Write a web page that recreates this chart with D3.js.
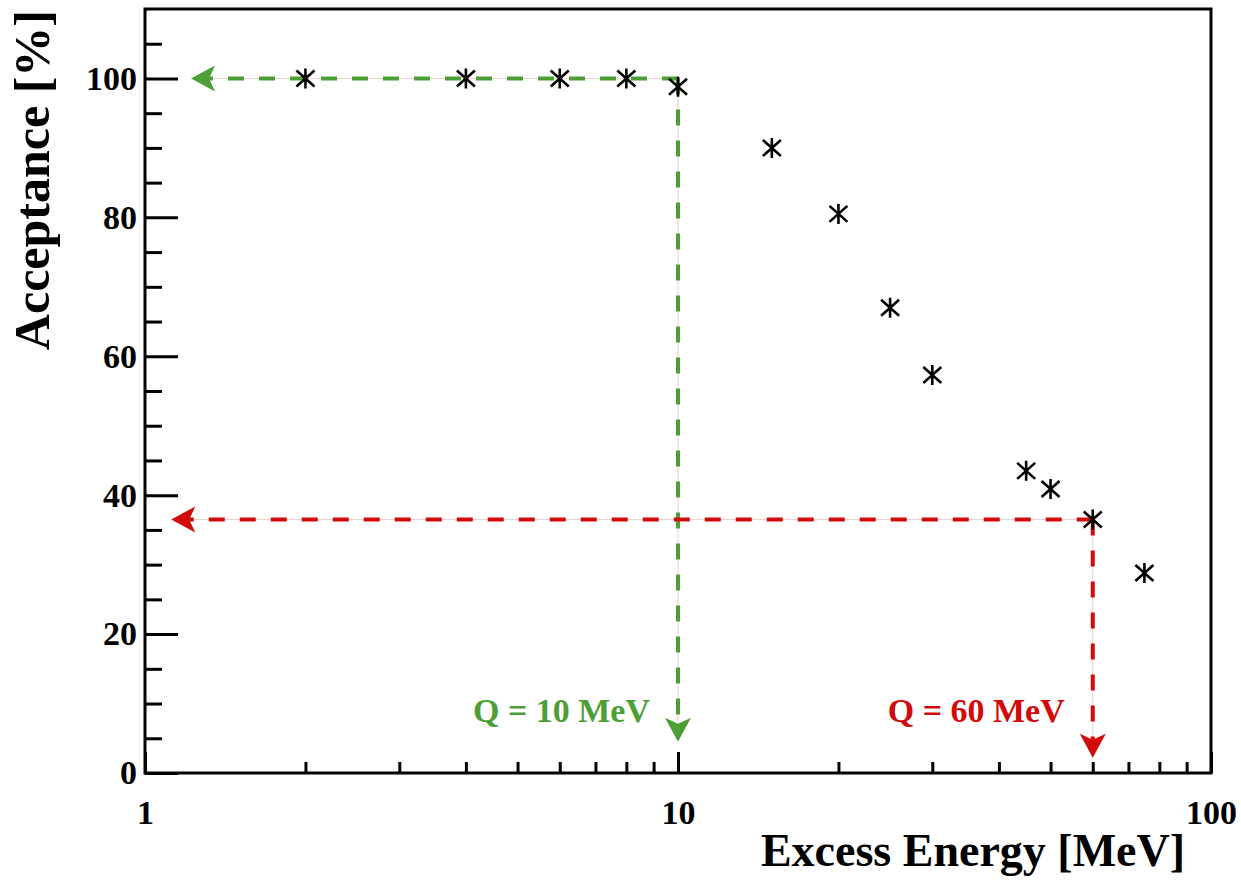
<!DOCTYPE html>
<html>
<head>
<meta charset="utf-8">
<script src="https://cdn.jsdelivr.net/npm/d3@7"></script>
<style>
  body { margin: 0; background: #fff; }
  text { font-family: "Liberation Serif", "Times New Roman", serif; font-weight: bold; }
</style>
</head>
<body>
<svg id="chart" width="1241" height="880"></svg>
<script>
// data
var energies   = [2, 4, 6, 8, 10, 15, 20, 25, 30, 45, 50, 60, 75];
var acceptance = [100, 100, 100, 100, 98.8, 90, 80.5, 67, 57.3, 43.5, 40.9, 36.5, 28.8];

// Q markers (dashed arrows)
var qValues      = [10, 60];
var qAcceptance  = [100, 36.5];
var qLeftEnd     = [1.22, 1.12];   // where the horizontal arrow stops
var qBottomEnd   = [4.5, 2.2];     // where the vertical arrow stops
var qLabels      = ["Q = 10 MeV", "Q = 60 MeV"];

var xMajor = [1, 10, 100];
var xMinor = [2, 3, 4, 5, 6, 7, 8, 9, 20, 30, 40, 50, 60, 70, 80, 90];
var yMajor = [0, 20, 40, 60, 80, 100];
var yMinor = [5, 10, 15, 25, 30, 35, 45, 50, 55, 65, 70, 75, 85, 90, 95, 105];

var qColors = ["#4c9f35", "#d20a0a"];

var plotLeft = 145, plotRight = 1211, plotTop = 9, plotBottom = 773;

var svg = d3.select("#chart");

var x = d3.scaleLog().domain([1, 100]).range([plotLeft, plotRight]);
var y = d3.scaleLinear().domain([0, 110]).range([plotBottom, plotTop]);

// axes
var xAxis = d3.axisBottom(x).tickValues(xMajor).tickSizeInner(-21).tickSizeOuter(0)
    .tickPadding(27).tickFormat(d3.format("d"));
var xAxisMinor = d3.axisBottom(x).tickValues(xMinor).tickSizeInner(-11).tickSizeOuter(0)
    .tickFormat("");
var yAxis = d3.axisLeft(y).tickValues(yMajor).tickSizeInner(-33).tickSizeOuter(0)
    .tickPadding(8);
var yAxisMinor = d3.axisLeft(y).tickValues(yMinor).tickSizeInner(-17).tickSizeOuter(0)
    .tickFormat("");

function styleAxis(g) {
  g.select(".domain").remove();
  g.attr("font-family", null).attr("font-size", null);
  g.selectAll("line").attr("stroke", "#000").attr("stroke-width", 3);
  g.selectAll("text").attr("fill", "#000").style("font-size", "34px")
    .style("font-family", "'Liberation Serif', serif").style("font-weight", "bold");
}

svg.append("g").attr("transform", "translate(0," + plotBottom + ")").call(xAxis).call(styleAxis);
svg.append("g").attr("transform", "translate(0," + plotBottom + ")").call(xAxisMinor).call(styleAxis);
svg.append("g").attr("transform", "translate(" + plotLeft + ",0)").call(yAxis).call(styleAxis);
svg.append("g").attr("transform", "translate(" + plotLeft + ",0)").call(yAxisMinor).call(styleAxis);

// frame
svg.append("rect")
  .attr("x", plotLeft).attr("y", plotTop)
  .attr("width", plotRight - plotLeft).attr("height", plotBottom - plotTop)
  .attr("fill", "none").attr("stroke", "#000").attr("stroke-width", 3);

// titles
svg.append("text")
  .attr("x", 1185).attr("y", 866)
  .attr("text-anchor", "end")
  .style("font-size", "46px")
  .text("Excess Energy [MeV]");

svg.append("text")
  .attr("transform", "translate(49,10) rotate(-90)")
  .attr("text-anchor", "end")
  .style("font-size", "50px")
  .text("Acceptance [%]");

// dashed arrows
qValues.forEach(function(q, i) {
  var col = qColors[i];
  var px = x(q), py = y(qAcceptance[i]);
  var lx = x(qLeftEnd[i]), by = y(qBottomEnd[i]);
  var g = svg.append("g");

  // thin pale guide under the dashes
  g.append("line").attr("x1", px).attr("y1", py).attr("x2", lx + 18).attr("y2", py)
    .attr("stroke", "#edd0d0").attr("stroke-width", 1);
  g.append("line").attr("x1", px).attr("y1", py).attr("x2", px).attr("y2", by - 18)
    .attr("stroke", "#edd0d0").attr("stroke-width", 1);

  g.append("line").attr("x1", px).attr("y1", py).attr("x2", lx + 18).attr("y2", py)
    .attr("stroke", col).attr("stroke-width", 4).attr("stroke-dasharray", "16,15");
  g.append("line").attr("x1", px).attr("y1", py).attr("x2", px).attr("y2", by - 18)
    .attr("stroke", col).attr("stroke-width", 4).attr("stroke-dasharray", "16,15");

  // arrow heads
  g.append("path")
    .attr("d", "M" + lx + "," + py + " L" + (lx + 24) + "," + (py - 13) +
               " L" + (lx + 18) + "," + py + " L" + (lx + 24) + "," + (py + 13) + "Z")
    .attr("fill", col);
  g.append("path")
    .attr("d", "M" + px + "," + by + " L" + (px - 13) + "," + (by - 24) +
               " L" + px + "," + (by - 18) + " L" + (px + 13) + "," + (by - 24) + "Z")
    .attr("fill", col);

  g.append("text")
    .attr("x", px - 28).attr("y", plotBottom - 51)
    .attr("text-anchor", "end")
    .attr("fill", col)
    .style("font-size", "34px")
    .text(qLabels[i]);
});

// markers: six-armed star (vertical bar plus a cross)
function starPath() {
  var p = d3.path();
  p.moveTo(0, -10); p.lineTo(0, 10);
  p.moveTo(-9, -8); p.lineTo(9, 8);
  p.moveTo(-9, 8);  p.lineTo(9, -8);
  return p.toString();
}
svg.append("g").selectAll("path")
  .data(energies)
  .enter().append("path")
  .attr("transform", function(d, i) { return "translate(" + x(d) + "," + y(acceptance[i]) + ")"; })
  .attr("d", starPath)
  .attr("fill", "none")
  .attr("stroke", "#000")
  .attr("stroke-width", 2.6);
</script>
</body>
</html>
